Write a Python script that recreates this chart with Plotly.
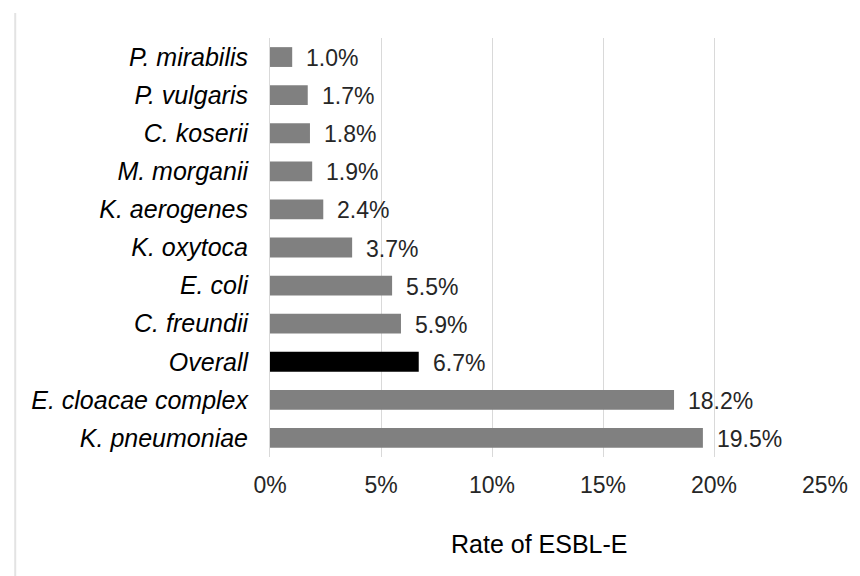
import plotly.graph_objects as go

categories = ["P. mirabilis", "P. vulgaris", "C. koserii", "M. morganii", "K. aerogenes",
              "K. oxytoca", "E. coli", "C. freundii", "Overall", "E. cloacae complex", "K. pneumoniae"]
rates = [1.0, 1.7, 1.8, 1.9, 2.4, 3.7, 5.5, 5.9, 6.7, 18.2, 19.5]
tick_vals = [0, 5, 10, 15, 20, 25]
tick_text = ["0%", "5%", "10%", "15%", "20%", "25%"]
x_title = "Rate of ESBL-E"

colors = ["#000000" if c == "Overall" else "#808080" for c in categories]

FONT = "Liberation Sans, Arial"

fig = go.Figure(go.Bar(
    x=rates, y=categories, orientation="h",
    marker=dict(color=colors, line=dict(width=0)),
    width=0.52,
))

for c, v in zip(categories, rates):
    fig.add_annotation(x=v, y=c, text=f"{v:.1f}%", showarrow=False,
                       xanchor="left", xshift=12, yshift=-1,
                       font=dict(family=FONT, size=23, color="#262626"))

# page has an 8px body offset; figure sized to fit the window
W, H = 852, 568
L, R, T, B = 262, 28, 30, 119
pw = W - L - R
ph = H - T - B

# axis title as annotation (slightly left of plot centre, like the reference)
fig.add_annotation(text=x_title, xref="paper", yref="paper", x=0.5, y=0,
                   xanchor="center", yanchor="middle", xshift=-9, yshift=-87,
                   showarrow=False, font=dict(family=FONT, size=25, color="#000000"))

fig.add_shape(type="line", xref="paper", yref="paper",
              x0=(4 - L) / pw, x1=(4 - L) / pw,
              y0=(H - B - 5) / ph, y1=(H - B - 580) / ph,
              line=dict(color="#e3e3e3", width=2))

fig.update_layout(
    width=W, height=H,
    margin=dict(l=L, r=R, t=T, b=B),
    plot_bgcolor="white", paper_bgcolor="white",
    showlegend=False,
    font=dict(family=FONT, size=23, color="#262626"),
    xaxis=dict(
        range=[0, 25], tickvals=tick_vals, ticktext=tick_text,
        showgrid=True, gridcolor="#d9d9d9", gridwidth=1,
        zeroline=False, showline=False,
        tickfont=dict(family=FONT, size=23, color="#262626"),
        ticklabelstandoff=12,
        fixedrange=True,
    ),
    yaxis=dict(
        categoryorder="array", categoryarray=categories,
        autorange="reversed",
        showline=True, linecolor="#d9d9d9", linewidth=1,
        showgrid=False, zeroline=False,
        tickfont=dict(family=FONT, size=25, color="#000000", style="italic"),
        ticklabelstandoff=16,
    ),
)

fig.write_html("out.html")
